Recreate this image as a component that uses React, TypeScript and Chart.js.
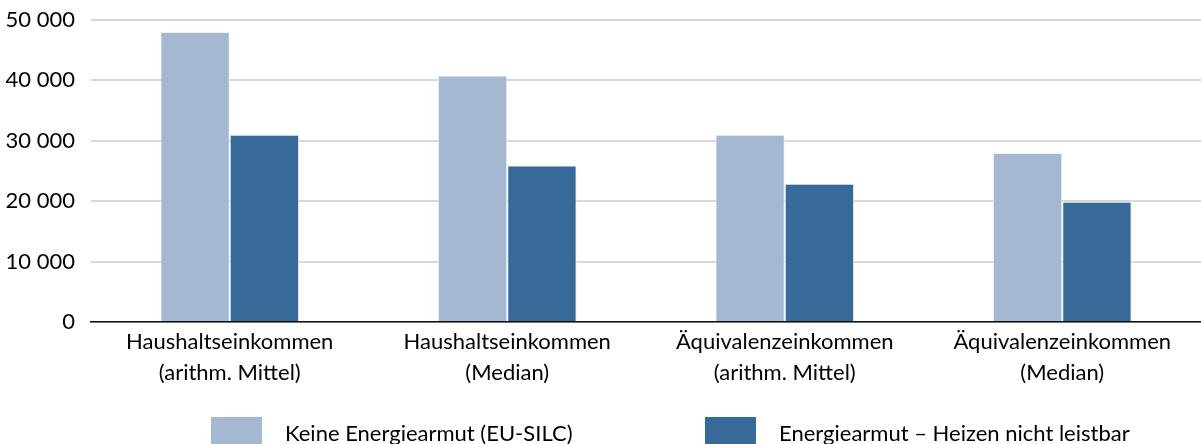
import React, { useEffect, useRef } from "react";
import { Chart, registerables } from "chart.js";

Chart.register(...registerables);

const FONT = "Lato, 'Open Sans', sans-serif";
const FS = 22;

const categories: string[][] = [
  ["Haushaltseinkommen", "(arithm. Mittel)"],
  ["Haushaltseinkommen", "(Median)"],
  ["Äquivalenzeinkommen", "(arithm. Mittel)"],
  ["Äquivalenzeinkommen", "(Median)"],
];
const seriesNames = ["Keine Energiearmut (EU-SILC)", "Energiearmut – Heizen nicht leistbar"];
const keineEnergiearmut = [48000, 40800, 31000, 28000];
const energiearmut = [31000, 25900, 22900, 19900];
const yMin = 0;
const yMax = 50000;
const yStep = 10000;
const seriesColors = ["#A5B8D2", "#376A98"];

const fmt = (v: number) => String(Math.round(v)).replace(/\B(?=(\d{3})+(?!\d))/g, " ");

const legendPlugin = {
  id: "customLegend",
  afterDraw(chart: any) {
    const ctx = chart.ctx as CanvasRenderingContext2D;
    ctx.save();
    ctx.font = `${FS}px ${FONT}`;
    ctx.textBaseline = "middle";
    ctx.textAlign = "left";
    const startX = 211;
    const spacing = 494;
    const boxW = 51;
    const boxH = 27;
    const boxY = 417;
    seriesNames.forEach((name, i) => {
      const x = startX + i * spacing;
      ctx.fillStyle = seriesColors[i];
      ctx.fillRect(x, boxY, boxW, boxH);
      ctx.fillStyle = "#000000";
      ctx.fillText(name, x + boxW + 23, boxY + 17);
    });
    ctx.restore();
  },
};

export default function App() {
  const ref = useRef<HTMLCanvasElement | null>(null);
  useEffect(() => {
    if (!ref.current) return;
    const chart = new Chart(ref.current, {
      type: "bar",
      data: {
        labels: categories,
        datasets: [
          {
            label: seriesNames[0],
            data: keineEnergiearmut,
            backgroundColor: seriesColors[0],
            borderColor: "#eef2f7",
            borderWidth: 1,
            categoryPercentage: 0.5,
            barPercentage: 1.0,
          },
          {
            label: seriesNames[1],
            data: energiearmut,
            backgroundColor: seriesColors[1],
            borderColor: "#eef2f7",
            borderWidth: 1,
            categoryPercentage: 0.5,
            barPercentage: 1.0,
          },
        ],
      },
      options: {
        responsive: false,
        animation: false,
        devicePixelRatio: 1,
        layout: { padding: { top: 20, left: 0, right: 0, bottom: 0 } },
        plugins: {
          legend: { display: false },
          tooltip: { enabled: false },
        },
        scales: {
          x: {
            grid: { display: false, drawTicks: false },
            border: { display: true, color: "#111111", width: 1.5 },
            ticks: {
              color: "#000000",
              font: { family: FONT, size: FS, lineHeight: 1.4 },
              padding: 5,
              maxRotation: 0,
              autoSkip: false,
            },
            afterFit: (s: any) => {
              s.height = 122;
              s.paddingLeft = 0;
              s.paddingRight = 0;
            },
          },
          y: {
            min: yMin,
            max: yMax,
            grid: { color: "#d8d8d8", lineWidth: 2, drawTicks: false },
            border: { display: false },
            ticks: {
              stepSize: yStep,
              color: "#000000",
              font: { family: FONT, size: FS },
              padding: 16,
              callback: (v: any) => fmt(Number(v)),
            },
            afterFit: (s: any) => {
              s.width = 91;
              s.paddingTop = 0;
              s.paddingBottom = 0;
            },
          },
        },
      },
      plugins: [legendPlugin],
    });
    return () => chart.destroy();
  }, []);
  return (
    <div style={{ position: "absolute", left: 0, top: 0, width: 1201, height: 444, background: "#ffffff" }}>
      <canvas ref={ref} width={1201} height={444} style={{ width: 1201, height: 444, display: "block" }} />
    </div>
  );
}
